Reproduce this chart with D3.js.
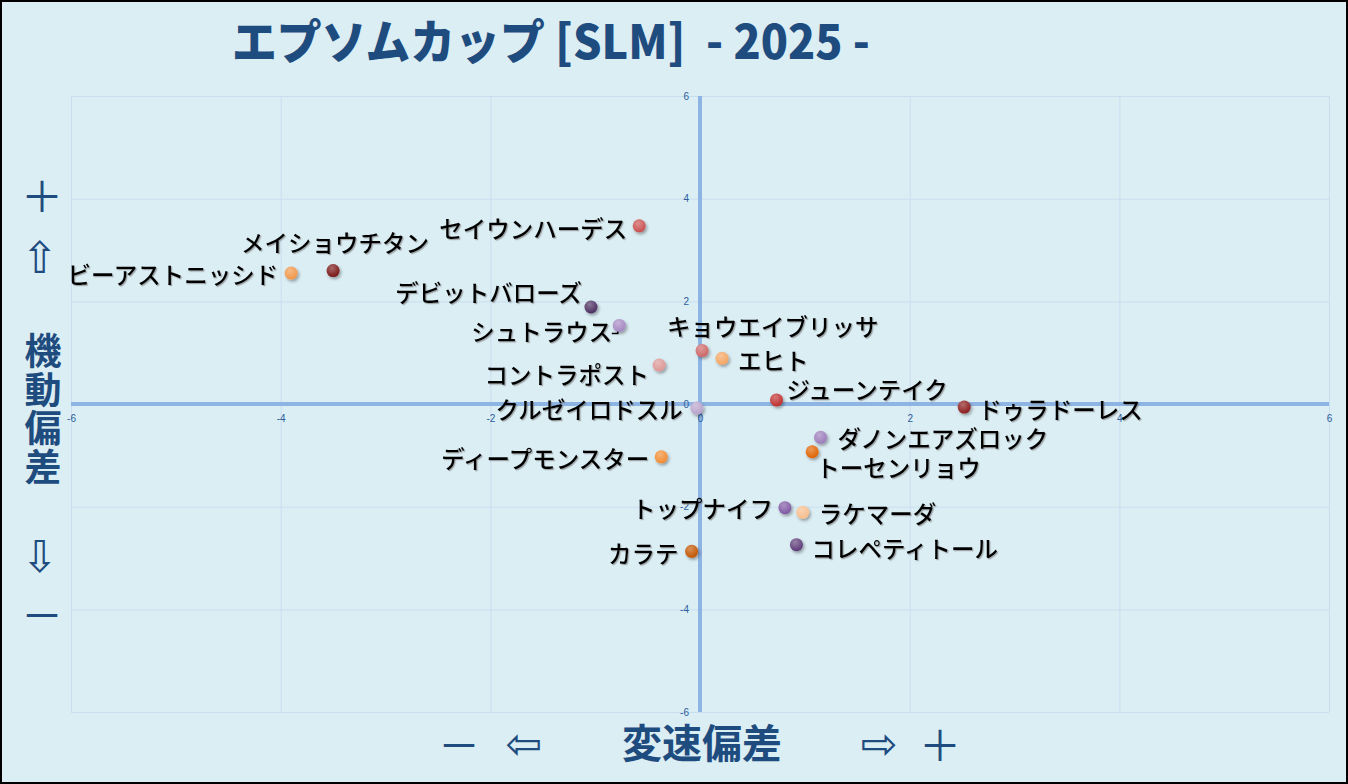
<!DOCTYPE html>
<html>
<head>
<meta charset="utf-8">
<script src="https://cdn.jsdelivr.net/npm/d3@7"></script>
<style>
  html, body { margin: 0; padding: 0; background: #fff; }
  #chart svg { display: block; }
</style>
</head>
<body>
<div id="chart"></div>
<script>
(function(d3) {
  'use strict';

  // horse names, 変速偏差 (x) and 機動偏差 (y)
  var names = ['セイウンハーデス', 'メイショウチタン', 'ビーアストニッシド', 'デビットバローズ',
    'シュトラウス', 'キョウエイブリッサ', 'エヒト', 'コントラポスト', 'ジューンテイク',
    'クルゼイロドスル', 'ドゥラドーレス', 'ダノンエアズロック', 'トーセンリョウ',
    'ディープモンスター', 'トップナイフ', 'ラケマーダ', 'コレペティトール', 'カラテ'];
  var xValues = [-0.58, -3.50, -3.90, -1.04, -0.77, 0.02, 0.21, -0.39, 0.73,
    -0.03, 2.52, 1.15, 1.07, -0.37, 0.81, 0.98, 0.92, -0.08];
  var yValues = [3.47, 2.60, 2.55, 1.89, 1.53, 1.04, 0.89, 0.76, 0.08,
    -0.08, -0.06, -0.65, -0.93, -1.03, -2.02, -2.11, -2.74, -2.87];
  var dotColors = ['#c9504f', '#7a1818', '#f0964a', '#4b2d60', '#a487c2', '#cc6666',
    '#f4a562', '#dc9696', '#c02f2e', '#b8a3cb', '#8c1d1d', '#9a7cba', '#e06204',
    '#f28b30', '#7f58a2', '#f6bd8c', '#5b3b77', '#c25406'];
  var xTicks = [-6, -4, -2, 0, 2, 4, 6];
  var yTicks = [-6, -4, -2, 0, 2, 4, 6];

  var titleText = 'エプソムカップ [SLM]  - 2025 -';
  var xTitle = '変速偏差';
  var yTitle = ['機', '動', '偏', '差'];

  // where each label sits next to its dot: [anchor, dx, dy]
  var labelPlace = {
    'セイウンハーデス': ['end', -12, 2],
    'メイショウチタン': ['middle', 2, -29],
    'ビーアストニッシド': ['end', -13, 1],
    'デビットバローズ': ['end', -9, -15],
    'シュトラウス': ['end', -7, 6],
    'キョウエイブリッサ': ['start', -35, -25],
    'エヒト': ['start', 16, 2],
    'コントラポスト': ['end', -10, 9],
    'ジューンテイク': ['start', 10, -11],
    'クルゼイロドスル': ['end', -14, 1],
    'ドゥラドーレス': ['start', 14, 2],
    'ダノンエアズロック': ['start', 17, 1],
    'トーセンリョウ': ['start', 4, 15],
    'ディープモンスター': ['end', -12, 1],
    'トップナイフ': ['end', -12, 0],
    'ラケマーダ': ['start', 16, 1],
    'コレペティトール': ['start', 15, 3],
    'カラテ': ['end', -13, 2]
  };
  // the one label that has a leader line drawn to its dot
  var leaderFor = 'シュトラウス';

  var width = 1348;
  var height = 784;
  var plot = { left: 71, right: 1329, top: 96, bottom: 712 };
  var navy = '#1f4c7f';
  var jp = '"Noto Sans CJK JP", "Noto Sans", sans-serif';
  var arrowFont = '"DejaVu Sans", sans-serif';

  var svg = d3.select('#chart')
    .append('svg')
    .attr('width', width)
    .attr('height', height);

  var defs = svg.append('defs');
  var dotShadow = defs.append('filter').attr('id', 'dotShadow')
    .attr('x', '-50%').attr('y', '-50%').attr('width', '200%').attr('height', '200%');
  dotShadow.append('feDropShadow')
    .attr('dx', 1.5).attr('dy', 2).attr('stdDeviation', 1.6)
    .attr('flood-color', '#000').attr('flood-opacity', 0.35);
  var textShadow = defs.append('filter').attr('id', 'textShadow')
    .attr('x', '-5%').attr('y', '-20%').attr('width', '110%').attr('height', '140%');
  textShadow.append('feDropShadow')
    .attr('dx', 1.2).attr('dy', 1.2).attr('stdDeviation', 0.6)
    .attr('flood-color', '#6b6b6b').attr('flood-opacity', 0.55);

  var shine = defs.append('radialGradient').attr('id', 'shine')
    .attr('cx', '40%').attr('cy', '30%').attr('r', '70%');
  shine.append('stop').attr('offset', '0%').attr('stop-color', '#fff').attr('stop-opacity', 0.35);
  shine.append('stop').attr('offset', '100%').attr('stop-color', '#fff').attr('stop-opacity', 0);

  // background and frame
  svg.append('rect')
    .attr('x', 1).attr('y', 1)
    .attr('width', width - 2).attr('height', height - 2)
    .attr('fill', '#dbeef4')
    .attr('stroke', '#000')
    .attr('stroke-width', 2);

  var x = d3.scaleLinear().domain([-6, 6]).range([plot.left, plot.right]);
  var y = d3.scaleLinear().domain([-6, 6]).range([plot.bottom, plot.top]);

  // grid
  svg.append('g')
    .attr('class', 'grid')
    .attr('transform', 'translate(0,' + plot.bottom + ')')
    .call(d3.axisBottom(x).tickValues(xTicks).tickSize(-(plot.bottom - plot.top)).tickFormat(''))
    .call(function(g) { g.select('.domain').remove(); });
  svg.append('g')
    .attr('class', 'grid')
    .attr('transform', 'translate(' + plot.left + ',0)')
    .call(d3.axisLeft(y).tickValues(yTicks).tickSize(-(plot.right - plot.left)).tickFormat(''))
    .call(function(g) { g.select('.domain').remove(); });
  svg.selectAll('.grid line')
    .attr('stroke', '#c8def0')
    .attr('stroke-width', 1);

  // main axes through zero
  svg.append('line')
    .attr('x1', plot.left).attr('x2', plot.right)
    .attr('y1', y(0)).attr('y2', y(0))
    .attr('stroke', '#8db4e3').attr('stroke-width', 4);
  svg.append('line')
    .attr('x1', x(0)).attr('x2', x(0))
    .attr('y1', plot.top).attr('y2', plot.bottom)
    .attr('stroke', '#8db4e3').attr('stroke-width', 4);

  var plain = function(d) { return String(d); };
  var xAxis = svg.append('g')
    .attr('transform', 'translate(0,' + y(0) + ')')
    .call(d3.axisBottom(x).tickValues(xTicks).tickSize(0).tickPadding(11).tickFormat(plain));
  var yAxis = svg.append('g')
    .attr('transform', 'translate(' + (x(0) - 2) + ',0)')
    .call(d3.axisLeft(y).tickValues(yTicks).tickSize(0).tickPadding(9).tickFormat(plain));
  [xAxis, yAxis].forEach(function(a) {
    a.select('.domain').remove();
    a.selectAll('text')
      .attr('fill', '#2b5d9b')
      .style('font-family', '"Liberation Sans", sans-serif')
      .style('font-size', '10px');
  });

  // title
  svg.append('text')
    .attr('x', 232)
    .attr('y', 59)
    .attr('textLength', 638)
    .attr('lengthAdjust', 'spacingAndGlyphs')
    .attr('fill', navy)
    .style('white-space', 'pre')
    .style('font-family', jp)
    .style('font-weight', 900)
    .style('font-size', '47px')
    .text(titleText);

  // y axis title and arrows
  var yT = svg.append('g').attr('fill', navy).style('font-family', jp)
    .attr('text-anchor', 'middle').attr('dominant-baseline', 'central');
  yT.append('text').attr('x', 42).attr('y', 193).style('font-size', '42px').text('＋');
  yT.append('text').attr('x', 40).attr('y', 257)
    .style('font-family', arrowFont).style('font-size', '44px').text('⇧');
  yT.selectAll('.yc')
    .data(yTitle)
    .enter()
    .append('text')
    .attr('class', 'yc')
    .attr('x', 43)
    .attr('y', function(d, i) { return 349 + i * 38.5; })
    .style('font-weight', 700)
    .style('font-size', '37px')
    .text(function(d) { return d; });
  yT.append('text').attr('x', 40).attr('y', 556)
    .style('font-family', arrowFont).style('font-size', '44px').text('⇩');
  yT.append('text').attr('x', 42).attr('y', 612).style('font-size', '42px').text('－');

  // x axis title and arrows
  var xT = svg.append('g').attr('fill', navy).style('font-family', jp)
    .attr('text-anchor', 'middle').attr('dominant-baseline', 'central');
  xT.append('text').attr('x', 459).attr('y', 742).style('font-size', '42px').text('－');
  xT.append('text').attr('x', 524).attr('y', 743)
    .style('font-family', arrowFont).style('font-size', '44px').text('⇦');
  xT.append('text').attr('x', 702).attr('y', 741)
    .style('font-weight', 700).style('font-size', '40px').text(xTitle);
  xT.append('text').attr('x', 879).attr('y', 743)
    .style('font-family', arrowFont).style('font-size', '44px').text('⇨');
  xT.append('text').attr('x', 940).attr('y', 742).style('font-size', '42px').text('＋');

  var horses = names.map(function(n, i) {
    return { name: n, x: xValues[i], y: yValues[i], color: dotColors[i] };
  });

  // leader line
  svg.append('g').selectAll('path')
    .data(horses.filter(function(d) { return d.name === leaderFor; }))
    .enter()
    .append('path')
    .attr('d', function(d) {
      var cx = x(d.x), cy = y(d.y);
      return 'M' + (cx - 1.5) + ',' + (cy + 3) + 'V' + (cy + 8) + 'H' + (cx - 7.5);
    })
    .attr('fill', 'none')
    .attr('stroke', '#000')
    .attr('stroke-width', 1.6);

  // dots
  var dots = svg.append('g').selectAll('g')
    .data(horses)
    .enter()
    .append('g')
    .attr('transform', function(d) { return 'translate(' + x(d.x) + ',' + y(d.y) + ')'; });
  dots.append('circle')
    .attr('r', 6.5)
    .attr('fill', function(d) { return d.color; })
    .attr('filter', 'url(#dotShadow)');
  dots.append('circle')
    .attr('r', 6.5)
    .attr('fill', 'url(#shine)');

  // labels
  svg.append('g').selectAll('text')
    .data(horses)
    .enter()
    .append('text')
    .attr('x', function(d) { return x(d.x) + labelPlace[d.name][1]; })
    .attr('y', function(d) { return y(d.y) + labelPlace[d.name][2]; })
    .attr('text-anchor', function(d) { return labelPlace[d.name][0]; })
    .attr('dominant-baseline', 'central')
    .attr('fill', '#000')
    .attr('filter', 'url(#textShadow)')
    .style('font-family', jp)
    .style('font-weight', 500)
    .style('font-size', '23.5px')
    .text(function(d) { return d.name; });

})(window.d3);
</script>
</body>
</html>
